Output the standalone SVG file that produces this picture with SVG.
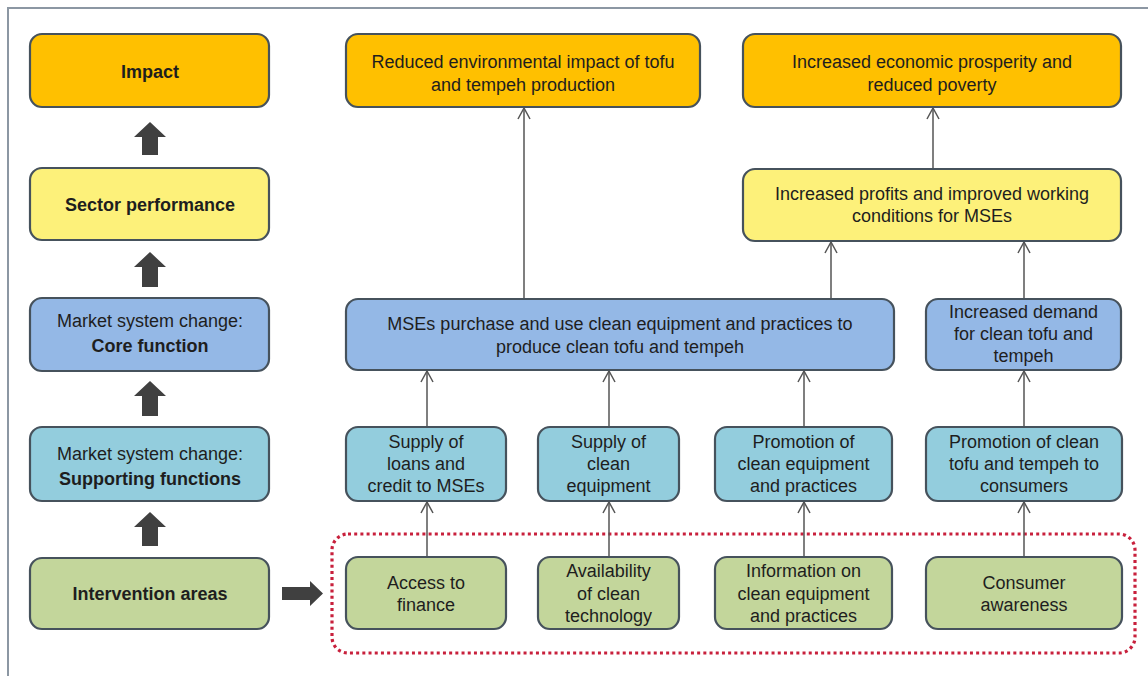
<svg xmlns="http://www.w3.org/2000/svg" width="1148" height="676" viewBox="0 0 1148 676">
<style>
text{font-family:"Liberation Sans",Arial,sans-serif;font-size:18px;fill:#1e1e1e;text-anchor:middle}
.b{font-weight:bold}
.box{stroke:#46525c;stroke-width:2.2}
.o{fill:#FFC000}
.y{fill:#FDF17A}
.c{fill:#94B8E6}
.s{fill:#93CDDD}
.g{fill:#C3D69B}
.con{stroke:#555;stroke-width:1.5;fill:none;marker-end:url(#ah)}
.big{fill:#404040}
</style>
<defs>
<marker id="ah" markerUnits="userSpaceOnUse" markerWidth="14" markerHeight="14" refX="0" refY="0" orient="auto" overflow="visible">
<path d="M-11,-6 L0,0 L-11,6" fill="none" stroke="#555" stroke-width="1.5"/>
</marker>
</defs>
<rect width="1148" height="676" fill="#fff"/>
<path d="M1148,8 L8,8 L8,676" fill="none" stroke="#8c97a3" stroke-width="2"/>

<g id="legend-impact"><rect class="box o" x="30" y="34" width="239" height="73" rx="12"/><text class="b" x="150" y="78">Impact</text></g>
<g id="legend-sector"><rect class="box y" x="30" y="168" width="239" height="72" rx="12"/><text class="b" x="150" y="211">Sector performance</text></g>
<g id="legend-core"><rect class="box c" x="30" y="298" width="239" height="73" rx="12"/><text x="150" y="327">Market system change:</text><text class="b" x="150" y="352">Core function</text></g>
<g id="legend-support"><rect class="box s" x="30" y="427" width="239" height="74" rx="12"/><text x="150" y="460">Market system change:</text><text class="b" x="150" y="485">Supporting functions</text></g>
<g id="legend-intervention"><rect class="box g" x="30" y="558" width="239" height="71" rx="12"/><text class="b" x="150" y="600">Intervention areas</text></g>

<g id="big-arrows">
<path class="big" d="M150,122 L166,137 L158,137 L158,155 L142,155 L142,137 L134,137 Z"/>
<path class="big" d="M150,252 L166,267 L158,267 L158,287 L142,287 L142,267 L134,267 Z"/>
<path class="big" d="M150,381 L166,396 L158,396 L158,416 L142,416 L142,396 L134,396 Z"/>
<path class="big" d="M150,512 L166,527 L158,527 L158,546 L142,546 L142,527 L134,527 Z"/>
<path class="big" d="M282,587 L310,587 L310,581 L323,593.5 L310,606 L310,600 L282,600 Z"/>
</g>

<g id="intervention-frame"><rect x="332" y="534" width="803" height="119" rx="16" fill="none" stroke="#c8203c" stroke-width="3.2" stroke-dasharray="3,3.2"/></g>

<g id="connectors">
<line class="con" x1="524" y1="299" x2="524" y2="108"/>
<line class="con" x1="933" y1="169" x2="933" y2="108"/>
<line class="con" x1="831" y1="299" x2="831" y2="242"/>
<line class="con" x1="1024" y1="299" x2="1024" y2="242"/>
<line class="con" x1="427" y1="427" x2="427" y2="371"/>
<line class="con" x1="609" y1="427" x2="609" y2="371"/>
<line class="con" x1="804" y1="427" x2="804" y2="371"/>
<line class="con" x1="1024" y1="427" x2="1024" y2="371"/>
<line class="con" x1="427" y1="557" x2="427" y2="502"/>
<line class="con" x1="609" y1="557" x2="609" y2="502"/>
<line class="con" x1="804" y1="557" x2="804" y2="502"/>
<line class="con" x1="1024" y1="557" x2="1024" y2="502"/>
</g>

<g id="impact-env"><rect class="box o" x="346" y="34" width="354" height="73" rx="12"/><text x="523" y="68">Reduced  environmental  impact of tofu</text><text x="523" y="91">and tempeh production</text></g>
<g id="impact-econ"><rect class="box o" x="743" y="34" width="378" height="73" rx="12"/><text x="932" y="68">Increased  economic prosperity and</text><text x="932" y="91">reduced poverty</text></g>
<g id="sector-profits"><rect class="box y" x="743" y="169" width="378" height="72" rx="12"/><text x="932" y="200">Increased  profits  and improved  working</text><text x="932" y="222">conditions for MSEs</text></g>
<g id="core-mses"><rect class="box c" x="346" y="299" width="548" height="71" rx="12"/><text x="620" y="330">MSEs purchase  and  use clean equipment  and practices to</text><text x="620" y="353">produce clean tofu and tempeh</text></g>
<g id="core-demand"><rect class="box c" x="926" y="299" width="195" height="71" rx="12"/><text x="1023.5" y="318">Increased  demand</text><text x="1023.5" y="340">for clean tofu and</text><text x="1023.5" y="362">tempeh</text></g>

<g id="sup-loans"><rect class="box s" x="346" y="427" width="160" height="74" rx="12"/><text x="426" y="448">Supply of</text><text x="426" y="470">loans and</text><text x="426" y="492">credit to MSEs</text></g>
<g id="sup-equipment"><rect class="box s" x="538" y="427" width="141" height="74" rx="12"/><text x="608.5" y="448">Supply of</text><text x="608.5" y="470">clean</text><text x="608.5" y="492">equipment</text></g>
<g id="sup-promotion"><rect class="box s" x="715" y="427" width="177" height="74" rx="12"/><text x="803.5" y="448">Promotion  of</text><text x="803.5" y="470">clean equipment</text><text x="803.5" y="492">and practices</text></g>
<g id="sup-consumers"><rect class="box s" x="926" y="427" width="196" height="74" rx="12"/><text x="1024" y="448">Promotion of clean</text><text x="1024" y="470">tofu and tempeh to</text><text x="1024" y="492">consumers</text></g>

<g id="int-finance"><rect class="box g" x="346" y="557" width="160" height="72" rx="12"/><text x="426" y="589">Access to</text><text x="426" y="611">finance</text></g>
<g id="int-technology"><rect class="box g" x="538" y="557" width="141" height="72" rx="12"/><text x="608.5" y="577">Availability</text><text x="608.5" y="600">of clean</text><text x="608.5" y="622">technology</text></g>
<g id="int-information"><rect class="box g" x="715" y="557" width="177" height="72" rx="12"/><text x="803.5" y="577">Information  on</text><text x="803.5" y="600">clean equipment</text><text x="803.5" y="622">and practices</text></g>
<g id="int-awareness"><rect class="box g" x="926" y="557" width="196" height="72" rx="12"/><text x="1024" y="589">Consumer</text><text x="1024" y="611">awareness</text></g>
</svg>
